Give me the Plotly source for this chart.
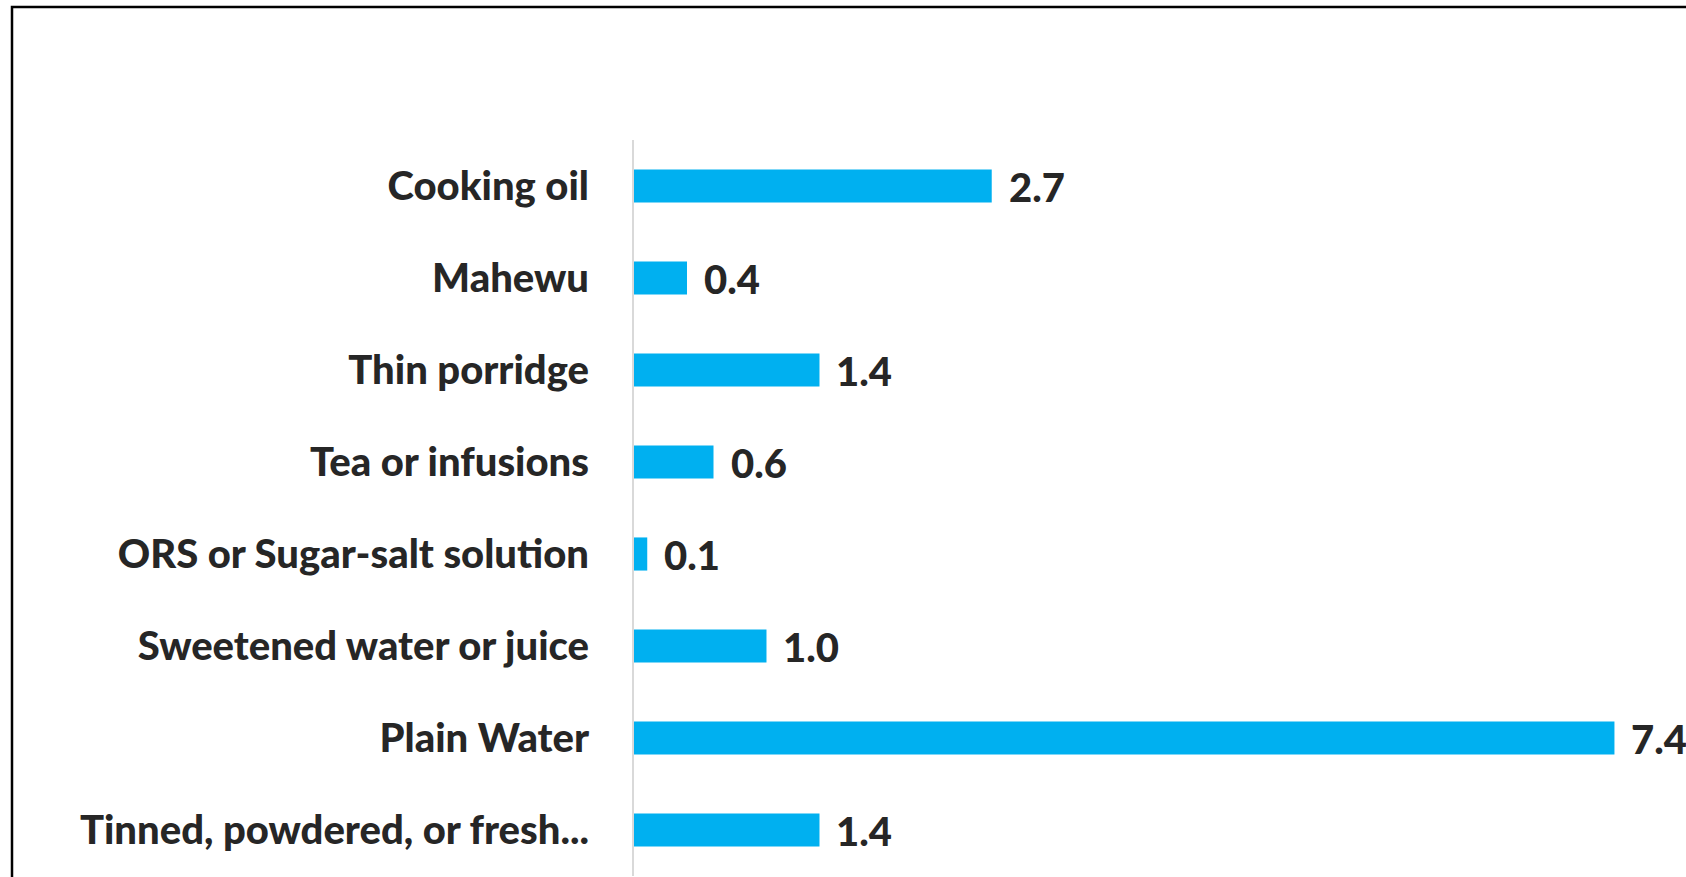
import plotly.graph_objects as go

categories = ["Cooking oil", "Mahewu", "Thin porridge", "Tea or infusions",
              "ORS or Sugar-salt solution", "Sweetened water or juice",
              "Plain Water", "Tinned, powdered, or fresh..."]
values = [2.7, 0.4, 1.4, 0.6, 0.1, 1.0, 7.4, 1.4]
value_labels = [f"{v:.1f}" for v in values]

W, H = 1686, 877
ML, MT, MB, MR = 634, 140, 1, 0
FONT = "Lato, 'Open Sans', sans-serif"
TXT = "#262626"

fig = go.Figure()
fig.add_trace(go.Bar(
    y=categories, x=values, orientation="h",
    marker=dict(color="#00B0F0", line=dict(width=0)),
    hoverinfo="skip",
))

for c, v, t in zip(categories, values, value_labels):
    fig.add_annotation(x=v, y=c, xref="x", yref="y", text=t, showarrow=False,
                       xanchor="left", yanchor="middle", xshift=15, yshift=-1,
                       font=dict(family=FONT, size=40, color=TXT, weight=900))

pw = W - ML - MR
ph = H - MT - MB
# outer frame (black border) in paper coords
fig.add_shape(type="rect", xref="paper", yref="paper",
              x0=(12 - ML) / pw, x1=(W + 20 - ML) / pw,
              y0=-20 / ph, y1=(H - MB - 7) / ph,
              line=dict(color="black", width=2.5), fillcolor="rgba(0,0,0,0)",
              layer="below")

fig.update_layout(
    width=W, height=H,
    margin=dict(l=ML, r=MR, t=MT, b=MB, pad=0),
    paper_bgcolor="white", plot_bgcolor="white",
    bargap=0.64, showlegend=False,
    font=dict(family=FONT, color=TXT),
    xaxis=dict(range=[0, 7.94], visible=False, fixedrange=True),
    yaxis=dict(autorange="reversed", showline=True, linecolor="#d9d9d9",
               linewidth=2, showgrid=False, ticks="", ticklabelstandoff=35,
               fixedrange=True,
               tickfont=dict(family=FONT, size=40, color=TXT, weight=900)),
)

fig.write_html("out.html", config={"displayModeBar": False},
               post_script="document.body.style.margin='0';document.body.style.overflow='hidden';")
